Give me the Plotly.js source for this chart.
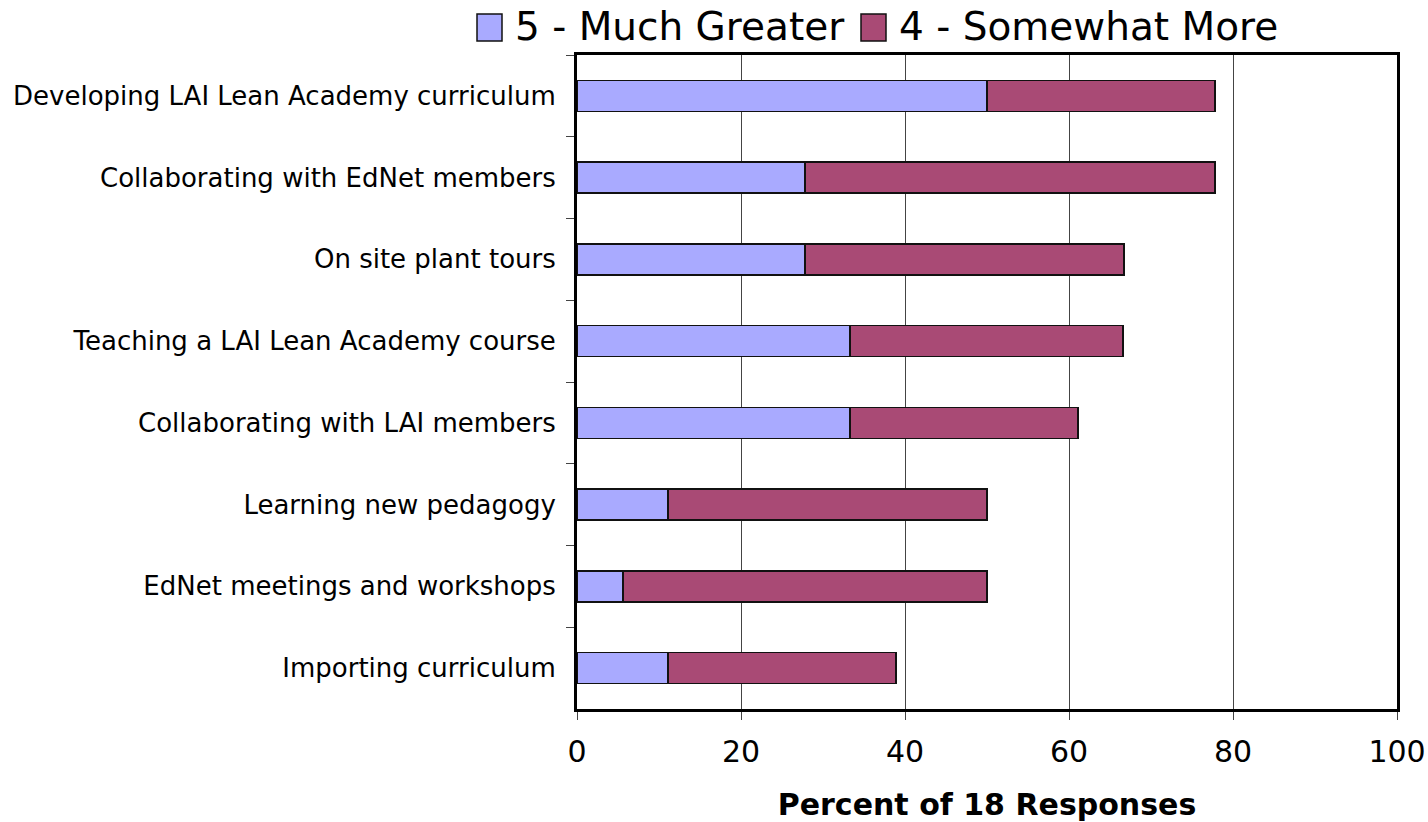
<!DOCTYPE html>
<html>
<head>
<meta charset="utf-8">
<script src="https://cdn.plot.ly/plotly-3.0.1.min.js"></script>
<style>html,body{margin:0;padding:0;background:#fff;}#chart{width:1428px;height:822px;}</style>
</head>
<body>
<div id="chart"></div>
<script>
const categories = [
  "Developing LAI Lean Academy curriculum",
  "Collaborating with EdNet members",
  "On site plant tours",
  "Teaching a LAI Lean Academy course",
  "Collaborating with LAI members",
  "Learning new pedagogy",
  "EdNet meetings and workshops",
  "Importing curriculum"
];
const muchGreater = [50.0, 27.8, 27.8, 33.3, 33.3, 11.1, 5.6, 11.1];
const somewhatMore = [27.8, 50.0, 38.9, 33.3, 27.8, 38.9, 44.4, 27.8];
const seriesNames = ["5 - Much Greater", "4 - Somewhat More"];
const seriesColors = ["#A9AAFF", "#A94A75"];
const xTickVals = [0, 20, 40, 60, 80, 100];

const F = "DejaVu Sans, Verdana, sans-serif";
const L = 577, R = 1397, T = 55, B = 709;
const W = R - L, H = B - T;
const px = v => (v - L) / W;
const py = v => (B - v) / H;

const traces = [muchGreater, somewhatMore].map((vals, i) => ({
  type: "bar",
  orientation: "h",
  y: categories,
  x: vals,
  name: seriesNames[i],
  marker: {color: seriesColors[i], line: {color: "#111", width: 1.5}},
  showlegend: false,
  hoverinfo: "x+y"
}));

const legendSquares = [[477, 502], [861, 886]];
const legendText = [513, 897];
const shapes = legendSquares.map((s, i) => ({
  type: "rect", xref: "paper", yref: "paper",
  x0: px(s[0]), x1: px(s[1]), y0: py(41), y1: py(14),
  fillcolor: seriesColors[i], line: {color: "#111", width: 1.5}
}));
const annotations = seriesNames.map((n, i) => ({
  xref: "paper", yref: "paper", x: px(legendText[i]), y: py(27),
  xanchor: "left", yanchor: "middle", showarrow: false, text: n,
  font: {family: F, size: 39, color: "#000"}
}));

const layout = {
  width: 1428, height: 822,
  margin: {l: L, r: 1428 - R, t: T, b: 822 - B},
  paper_bgcolor: "#fff", plot_bgcolor: "#fff",
  barmode: "stack",
  bargap: 0.62,
  showlegend: false,
  xaxis: {
    range: [0, 100], tickvals: xTickVals, ticktext: xTickVals.map(String),
    showgrid: true, gridcolor: "#444", gridwidth: 1,
    showline: true, mirror: true, linecolor: "#000", linewidth: 3,
    ticks: "outside", ticklen: 8, tickcolor: "#444", tickwidth: 1,
    tickfont: {family: F, size: 30, color: "#000"},
    ticklabelstandoff: 6,
    zeroline: false,
    title: {text: "<b>Percent of 18 Responses</b>", font: {family: F, size: 30, color: "#000"}, standoff: 28}
  },
  yaxis: {
    type: "category", autorange: "reversed",
    showline: true, mirror: true, linecolor: "#000", linewidth: 3,
    ticks: "outside", ticklen: 8, tickcolor: "#444", tickwidth: 1,
    tickson: "boundaries", showgrid: false,
    tickfont: {family: F, size: 26, color: "#000"},
    ticklabelstandoff: 13
  },
  shapes: shapes,
  annotations: annotations
};

Plotly.newPlot("chart", traces, layout, {displayModeBar: false, staticPlot: true});
</script>
</body>
</html>
